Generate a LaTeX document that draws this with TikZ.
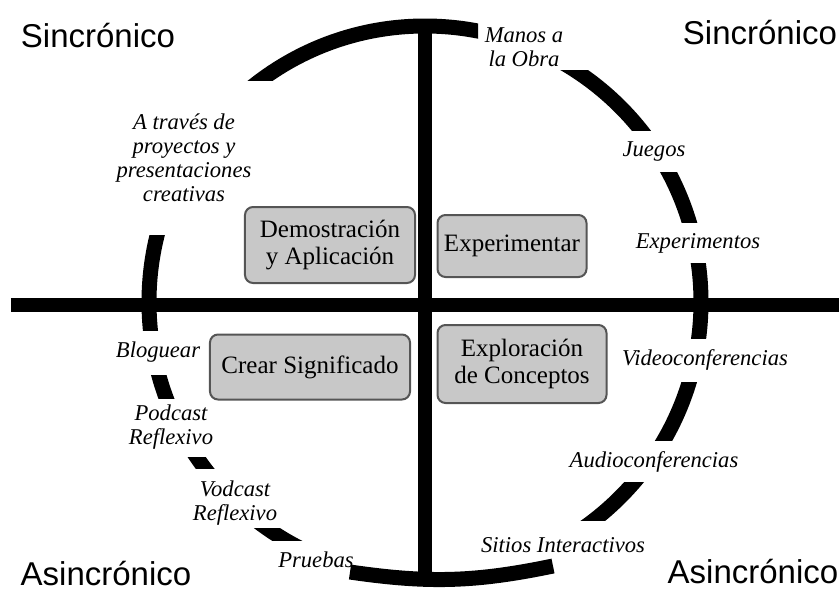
\documentclass[tikz,border=0pt]{standalone}
\usepackage{fontspec}
\setmainfont{Liberation Serif}
\newfontfamily\sansfont{Liberation Sans}
\usepackage{xcolor}
\definecolor{boxgray}{RGB}{200,200,200}
\definecolor{boxline}{RGB}{85,85,85}

\begin{document}
\begin{tikzpicture}[x=0.5pt, y=0.5pt,
    axis/.style = {line width=7pt},
    ring/.style = {line width=7.5pt},
    modo/.style = {font=\sansfont\fontsize{16.5}{19}\selectfont},
    medio/.style = {align=center, font=\itshape\fontsize{11.3}{12}\selectfont},
    fase/.style = {shape=rectangle, rounded corners=4pt,
      draw=boxline, line width=1pt, fill=boxgray, align=center,
      inner sep=2pt, font=\fontsize{12.5}{13.5}\selectfont}]
  \useasboundingbox (-425,-288) rectangle (414,302);
  \coordinate (c) at (0,0);
  % ejes
  \coordinate (izq) at (-414,-3);
  \coordinate (der) at (414,-3);
  \coordinate (arriba) at (0,280);
  \coordinate (abajo) at (0,-281);
  \draw[axis] (izq) -- (der);
  \draw[axis] (arriba) -- (abajo);
  % anillo cortado: cada trozo es una franja x1/y1/x2/y2
  \foreach \xa/\ya/\xb/\yb in {-300/222/53/310, -300/67/-200/-28,
      -300/-73/-200/-96, -300/-155/-150/-166, -300/-226/-100/-238,
      100/-180/250/-218, 150/-80/300/-138,
      200/39/300/-36, 150/130/300/80, 100/232/300/172}
  {
    \begin{scope}
      \clip (\xa,\ya) rectangle (\xb,\yb);
      \draw[ring] (c) circle[radius=138pt];
    \end{scope}
  }
  % trozo de abajo, algo mas plano
  \coordinate (fondoIzq) at (-75,-270);
  \coordinate (fondoDer) at (128,-264);
  \draw[ring] (fondoIzq) to[bend right=10] (fondoDer);
  % esquinas
  \node[modo] (sincIzq) at (-327,266) {Sincrónico};
  \node[modo] (sincDer) at (335,269) {Sincrónico};
  \node[modo] (asincIzq) at (-319,-272) {Asincrónico};
  \node[modo] (asincDer) at (328,-270) {Asincrónico};
  % cuadrantes
  \node[fase, minimum width=85pt, minimum height=38pt] (demo) at (-95,57)
    {Demostración\\y Aplicación};
  \node[fase, minimum width=74.5pt, minimum height=31pt] (experimentar) at (87,56)
    {Experimentar};
  \node[fase, minimum width=100pt, minimum height=32.5pt] (crear) at (-115,-65)
    {Crear Significado};
  \node[fase, minimum width=84.5pt, minimum height=39pt] (exploracion) at (97,-62)
    {Exploración\\de Conceptos};
  % medios
  \node[medio] (manos) at (99,255) {Manos a\\la Obra};
  \node[medio] (juegos) at (229,150) {Juegos};
  \node[medio] (experimentos) at (273,59) {Experimentos};
  \node[medio] (proyectos) at (-241,144)
    {A través de\\proyectos y\\presentaciones\\creativas};
  \node[medio] (bloguear) at (-267,-50) {Bloguear};
  \node[medio] (podcast) at (-254,-125) {Podcast\\Reflexivo};
  \node[medio] (vodcast) at (-190,-201) {Vodcast\\Reflexivo};
  \node[medio] (pruebas) at (-109,-258) {Pruebas};
  \node[medio] (video) at (280,-58) {Videoconferencias};
  \node[medio] (audio) at (229,-160) {Audioconferencias};
  \node[medio] (sitios) at (138,-243) {Sitios Interactivos};
\end{tikzpicture}
\end{document}
